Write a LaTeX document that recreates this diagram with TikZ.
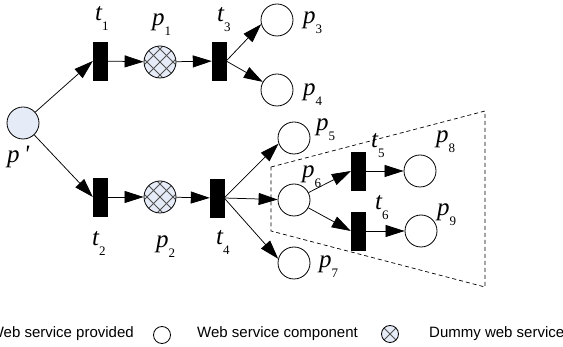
\documentclass[tikz,border=0pt]{standalone}
\usepackage{fontspec}
\setmainfont{Liberation Serif}
\newfontfamily\legendfont{Liberation Sans}
\usetikzlibrary{arrows.meta}

% italic letter with a lowered upright index
\newcommand\plab[2]{{\fontsize{25}{25}\selectfont\itshape #1}\raisebox{-10pt}{\fontsize{13}{13}\selectfont #2}}

\definecolor{placefill}{HTML}{E6ECF7}
\definecolor{hatchgray}{HTML}{505050}

\begin{document}
\begin{tikzpicture}[x=1pt,y=-1pt,
  place/.style={circle,draw,line width=0.8pt,minimum size=32pt,inner sep=0pt,fill=white},
  given/.style={place,fill=placefill},
  hatched/.style={place,fill=placefill,
    path picture={
      \foreach \k in {-39,-26,...,39}{
        \draw[hatchgray,line width=0.9pt]
          ([shift={(\k-40,-40)}]path picture bounding box.center) -- ++(80,80);
        \draw[hatchgray,line width=0.9pt]
          ([shift={(\k-40,40)}]path picture bounding box.center) -- ++(80,-80);
      }}},
  trans/.style={rectangle,fill=black,draw=black,minimum width=14pt,minimum height=38pt,inner sep=0pt},
  arc/.style={line width=0.75pt,-{Triangle[length=19pt,width=12pt]}},
  lbl/.style={anchor=base west,inner sep=0pt},
  legend/.style={font=\legendfont\fontsize{15}{15}\selectfont,inner sep=0pt}]

\useasboundingbox (0,0) rectangle (563,347);

% transitions
\node[trans] (t1) at (100,61) {};
\node[trans] (t3) at (219,61) {};
\node[trans] (t2) at (100,197) {};
\node[trans] (t4) at (217,198) {};
\node[trans] (t5) at (358,171) {};
\node[trans] (t6) at (358,231) {};

% places
\node[given]   (pp) at (23,123) {};
\node[hatched] (p1) at (160,62) {};
\node[hatched] (p2) at (160,197) {};
\node[place]   (p3) at (277,20) {};
\node[place]   (p4) at (277,90) {};
\node[place]   (p5) at (294,138) {};
\node[place]   (p6) at (294,200) {};
\node[place]   (p7) at (294,263) {};
\node[place]   (p8) at (420,171) {};
\node[place]   (p9) at (421,231) {};

% composite region
\draw[line width=0.7pt,dash pattern=on 4pt off 3pt]
  (271,167) -- (485,111) -- (485,287) -- (271,231) -- cycle;

% arcs
\draw[arc] (pp) -- (t1.west);
\draw[arc] (pp) -- (t2.west);
\draw[arc] (t1) -- (p1);
\draw[arc] (p1) -- (t3);
\draw[arc] (t3.east) -- (p3.195);
\draw[arc] (t3.east) -- (p4);
\draw[arc] (t2) -- (p2);
\draw[arc] (p2) -- (t4);
\draw[arc] (t4.east) -- (p5.200);
\draw[arc] (t4.east) -- (p6);
\draw[arc] (t4.east) -- (p7.165);
\draw[arc] (p6) -- (t5.west);
\draw[arc] (p6) -- (t6.west);
\draw[arc] (t5) -- (p8);
\draw[arc] (t6) -- (p9);

% labels
\node[lbl] (lt1) at (95,21)   {\plab{t}{1}};
\node[lbl] (lp1) at (152,26)  {\plab{p}{1}};
\node[lbl] (lt3) at (217,22)  {\plab{t}{3}};
\node[lbl] (lp3) at (303,24)  {\plab{p}{3}};
\node[lbl] (lp4) at (303,96)  {\plab{p}{4}};
\node[lbl] (lpp) at (7,163)   {{\fontsize{25}{25}\selectfont\itshape p\,\textquotesingle}};
\node[lbl] (lt2) at (92,246)  {\plab{t}{2}};
\node[lbl] (lp2) at (156,248) {\plab{p}{2}};
\node[lbl] (lt4) at (216,245) {\plab{t}{4}};
\node[lbl] (lp5) at (316,131) {\plab{p}{5}};
\node[lbl] (lp6) at (302,178) {\plab{p}{6}};
\node[lbl] (lp7) at (319,268) {\plab{p}{7}};
\node[lbl] (lt5) at (371,148) {\plab{t}{5}};
\node[lbl] (lt6) at (375,210) {\plab{t}{6}};
\node[lbl] (lp8) at (436,143) {\plab{p}{8}};
\node[lbl] (lp9) at (437,216) {\plab{p}{9}};

% legend
\node[legend,anchor=base east] (lg1) at (134,338) {Web service provided};
\node[place,minimum size=17pt] (lgc) at (162,335) {};
\node[legend,anchor=base west] (lg2) at (197,338) {Web service component};
\node[hatched,minimum size=17pt] (lgd) at (390,334) {};
\node[legend,anchor=base west] (lg3) at (429,338) {Dummy web service};
\end{tikzpicture}
\end{document}
